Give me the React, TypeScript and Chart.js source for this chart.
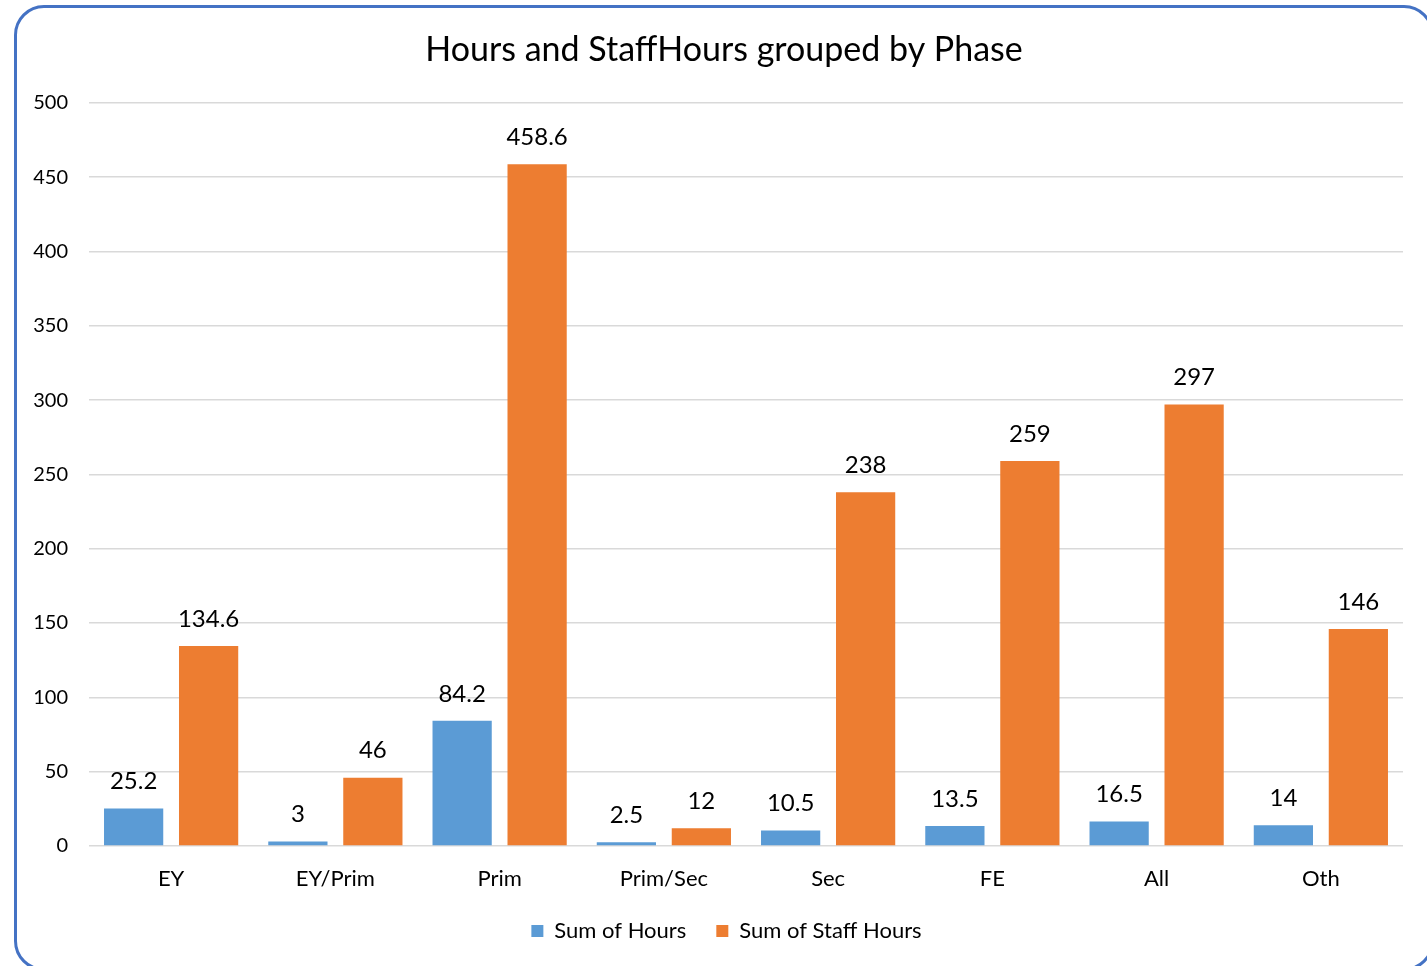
import React, { useEffect, useRef } from "react";
import { Chart, registerables } from "chart.js";

Chart.register(...registerables);

const categories = ["EY", "EY/Prim", "Prim", "Prim/Sec", "Sec", "FE", "All", "Oth"];
const sumOfHours = [25.2, 3, 84.2, 2.5, 10.5, 13.5, 16.5, 14];
const sumOfStaffHours = [134.6, 46, 458.6, 12, 238, 259, 297, 146];
const seriesNames = ["Sum of Hours", "Sum of Staff Hours"];
const titleText = "Hours and StaffHours grouped by Phase";

const FONT = "Lato, 'Open Sans', sans-serif";

const dataLabelPlugin = {
  id: "dataLabels",
  afterDatasetsDraw(chart: any) {
    const ctx = chart.ctx;
    ctx.save();
    ctx.font = `24px ${FONT}`;
    ctx.fillStyle = "#000";
    ctx.textAlign = "center";
    ctx.textBaseline = "middle";
    chart.data.datasets.forEach((ds: any, i: number) => {
      const meta = chart.getDatasetMeta(i);
      meta.data.forEach((bar: any, j: number) => {
        ctx.fillText(String(ds.data[j]), bar.x, bar.y - 27);
      });
    });
    ctx.restore();
  },
};

// centre title and legend on the framed chart box rather than the full canvas
const centerBoxesPlugin = {
  id: "centerBoxes",
  afterLayout(chart: any) {
    if (chart.titleBlock) chart.titleBlock.left = 45;
    if (chart.legend) chart.legend.left = 50;
  },
};

export default function App() {
  const ref = useRef<HTMLCanvasElement>(null);
  useEffect(() => {
    if (!ref.current) return;
    const chart = new Chart(ref.current, {
      type: "bar",
      data: {
        labels: categories,
        datasets: [
          {
            label: seriesNames[0],
            data: sumOfHours,
            backgroundColor: "#5B9BD5",
            categoryPercentage: 0.913,
            barPercentage: 0.79,
          },
          {
            label: seriesNames[1],
            data: sumOfStaffHours,
            backgroundColor: "#ED7D31",
            categoryPercentage: 0.913,
            barPercentage: 0.79,
          },
        ],
      },
      options: {
        responsive: false,
        animation: false,
        devicePixelRatio: 1,
        layout: { padding: { left: 0, right: 24, top: 0, bottom: 14 } },
        plugins: {
          title: {
            display: true,
            text: titleText,
            color: "#000",
            font: { family: FONT, size: 34, weight: "normal" },
            padding: { top: 30, bottom: 32 },
          },
          legend: {
            position: "bottom",
            labels: {
              color: "#000",
              font: { family: FONT, size: 22 },
              boxWidth: 12,
              boxHeight: 12,
              padding: 30,
            },
          },
          tooltip: { enabled: false },
        },
        scales: {
          x: {
            grid: { display: false },
            border: { display: false },
            ticks: {
              color: "#000",
              font: { family: FONT, size: 22 },
              padding: 12,
            },
            afterFit(scale: any) {
              scale.height = 44;
            },
          },
          y: {
            min: 0,
            max: 500,
            ticks: {
              stepSize: 50,
              color: "#000",
              font: { family: FONT, size: 20 },
              padding: 21,
            },
            grid: { color: "#D9D9D9", lineWidth: 1.5, drawTicks: false },
            border: { display: false },
            afterFit(scale: any) {
              scale.width = 89;
            },
          },
        },
      },
      plugins: [dataLabelPlugin, centerBoxesPlugin],
    });
    return () => chart.destroy();
  }, []);

  return (
    <div style={{ position: "fixed", left: 0, top: 0, width: 1427, height: 966, background: "#fff", overflow: "hidden" }}>
      <canvas ref={ref} width={1427} height={966} style={{ position: "absolute", left: 0, top: 0 }} />
      <div
        style={{
          position: "absolute",
          left: 14,
          top: 5,
          width: 1420,
          height: 966,
          boxSizing: "border-box",
          border: "3px solid #4472C4",
          borderRadius: 30,
          pointerEvents: "none",
        }}
      />
    </div>
  );
}
